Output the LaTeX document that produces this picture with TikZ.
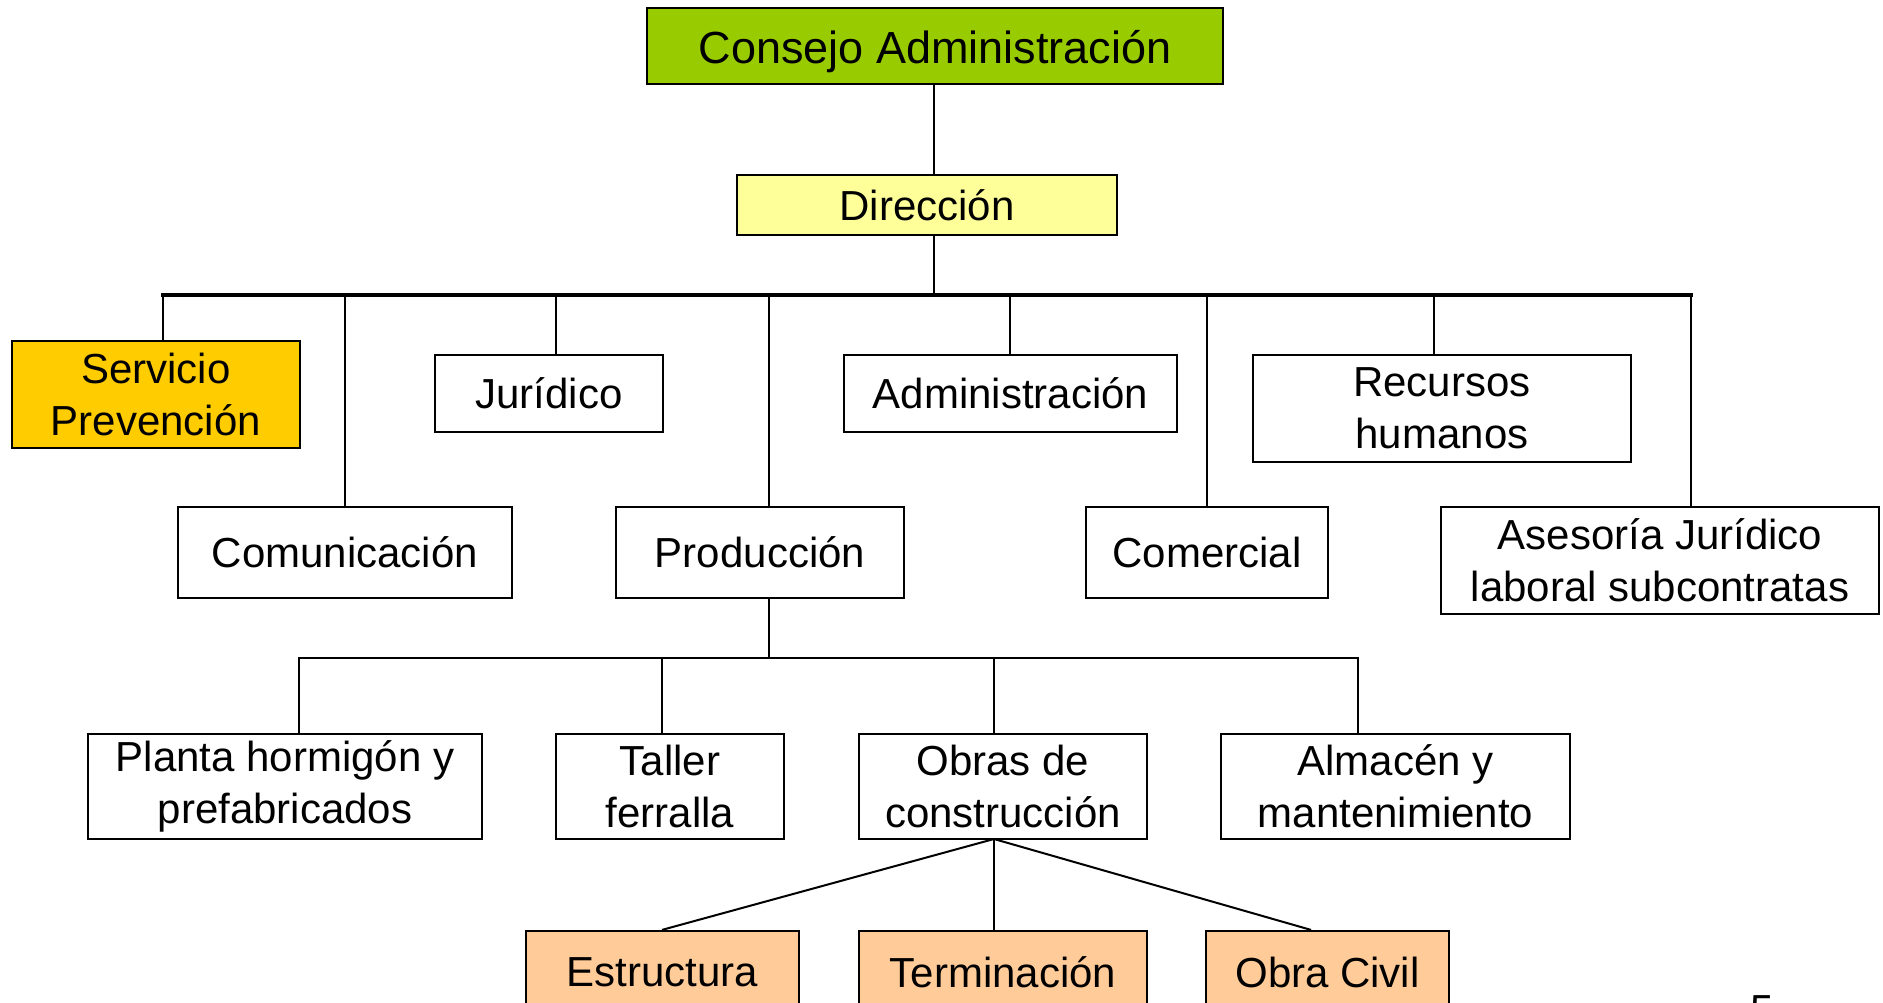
\documentclass[tikz,border=0pt]{standalone}
\usepackage{fontspec}
\setmainfont{Liberation Sans}
\definecolor{cgreen}{HTML}{99CC00}
\definecolor{cyellow}{HTML}{FFFF99}
\definecolor{cgold}{HTML}{FFCC00}
\definecolor{cpeach}{HTML}{FFCC99}
\begin{document}
\begin{tikzpicture}[x=1pt,y=-1pt,
  box/.style={draw, line width=2.2pt, fill=white, inner sep=0pt, align=center,
              font=\fontsize{42}{52}\selectfont},
  conn/.style={line width=2pt},
  busline/.style={line width=3.5pt, line cap=rect},
  busline2/.style={line width=2.6pt, line cap=rect}]
\clip (0,0) rectangle (1883,1003);
\fill[white] (0,0) rectangle (1883,1003);

% top
\node[box, fill=cgreen, minimum width=576pt, minimum height=76pt,
      text height=40pt, text depth=4pt,
      font=\fontsize{45}{54}\selectfont] (consejo) at (935,46) {Consejo Administración};
\node[box, fill=cyellow, minimum width=380pt, minimum height=60pt] (direccion) at (927,205) {Dirección};

% second level
\node[box, fill=cgold, minimum width=288pt, minimum height=107pt] (servicio) at (156,394.5) {Servicio\\Prevención};
\node[box, minimum width=228pt, minimum height=77pt] (juridico) at (549,393.5) {Jurídico};
\node[box, minimum width=333pt, minimum height=77pt] (admin) at (1010.5,393.5) {Administración};
\node[box, minimum width=378pt, minimum height=107pt] (recursos) at (1442,408.5) {Recursos\\humanos};
\node[box, minimum width=334pt, minimum height=91pt] (comunicacion) at (345,552.5) {Comunicación};
\node[box, minimum width=288pt, minimum height=91pt] (produccion) at (760,552.5) {Producción};
\node[box, minimum width=242pt, minimum height=91pt] (comercial) at (1207,552.5) {Comercial};
\node[box, minimum width=438pt, minimum height=107pt] (asesoria) at (1660,560.5) {Asesoría Jurídico\\laboral subcontratas};

% third level
\node[box, minimum width=394pt, minimum height=105pt] (planta) at (285,786.5) {Planta hormigón y\\prefabricados};
\node[box, minimum width=228pt, minimum height=105pt] (taller) at (670,786.5) {Taller\\ferralla};
\node[box, minimum width=288pt, minimum height=105pt] (obras) at (1003,786.5) {Obras de\\construcción};
\node[box, minimum width=349pt, minimum height=105pt] (almacen) at (1395.5,786.5) {Almacén y\\mantenimiento};

% fourth level
\node[box, fill=cpeach, minimum width=273pt, minimum height=83pt] (estructura) at (662.5,972.5) {Estructura};
\node[box, fill=cpeach, minimum width=288pt, minimum height=83pt] (terminacion) at (1003,972.5) {Terminación};
\node[box, fill=cpeach, minimum width=243pt, minimum height=83pt] (obracivil) at (1327.5,972.5) {Obra Civil};

% page number
\node[font=\fontsize{42}{51}\selectfont, anchor=base, inner sep=0pt] (pg) at (1762,1024) {5};

% connectors top
\coordinate (bus) at (934,295);
\draw[conn] (consejo.south -| bus) -- (direccion.north -| bus);
\draw[conn] (direccion.south -| bus) -- (bus);
\coordinate (busL) at (163,295);
\coordinate (busR) at (1691,295);
\draw[busline] (busL) -- (busR);
\foreach \x/\n in {163/servicio, 345/comunicacion, 556/juridico, 769/produccion,
                   1010/admin, 1207/comercial, 1434/recursos, 1691/asesoria}{
  \coordinate (t-\n) at (\x,295);
  \draw[conn] (t-\n) -- (t-\n |- \n.north);
}

% production bus
\coordinate (pbus) at (769,658);
\coordinate (pbusL) at (299,658);
\coordinate (pbusR) at (1358,658);
\draw[conn] (produccion.south -| pbus) -- (pbus);
\draw[busline2] (pbusL) -- (pbusR);
\foreach \x/\n in {299/planta, 662/taller, 994/obras, 1358/almacen}{
  \coordinate (p-\n) at (\x,658);
  \draw[conn] (p-\n) -- (p-\n |- \n.north);
}

% fan below obras
\coordinate (apex) at (994,839);
\coordinate (xe) at (662,0);
\coordinate (xt) at (994,0);
\coordinate (xo) at (1311,0);
\draw[conn] (apex) -- (estructura.north -| xe);
\draw[conn] (apex) -- (terminacion.north -| xt);
\draw[conn] (apex) -- (obracivil.north -| xo);
\end{tikzpicture}
\end{document}
